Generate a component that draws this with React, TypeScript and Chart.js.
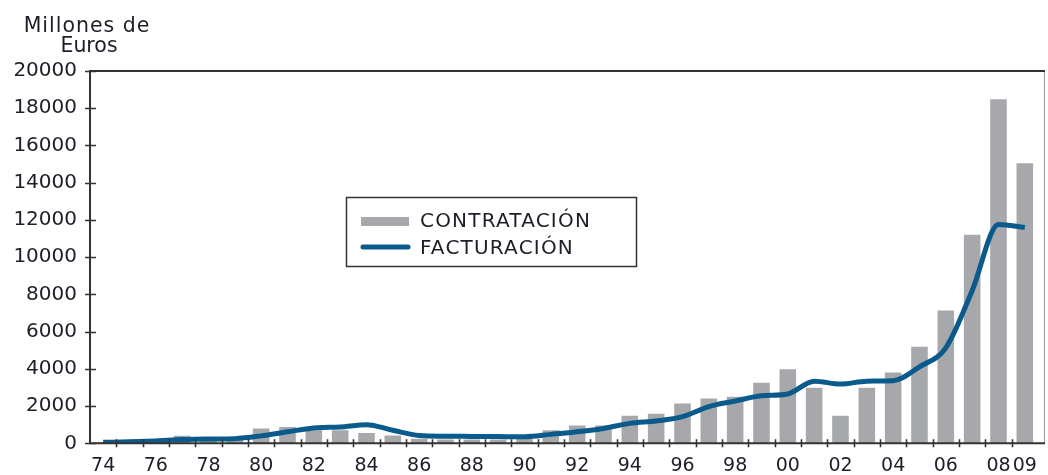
import React, { useEffect, useRef } from 'react';
import { Chart, registerables } from 'chart.js';

Chart.register(...registerables);

const years = [
  '74', '75', '76', '77', '78', '79', '80', '81', '82', '83', '84', '85',
  '86', '87', '88', '89', '90', '91', '92', '93', '94', '95', '96', '97',
  '98', '99', '00', '01', '02', '03', '04', '05', '06', '07', '08', '09',
];

const contratacion = [
  50, 100, 150, 400, 200, 200, 800, 880, 700, 700, 560, 420,
  250, 200, 200, 200, 250, 700, 950, 950, 1480, 1590, 2140, 2400,
  2500, 3250, 3980, 2980, 1480, 2980, 3800, 5180, 7140, 11200, 18480, 15050,
];

const facturacion = [
  50, 80, 130, 200, 230, 250, 400, 620, 820, 880, 1000, 700,
  420, 380, 370, 360, 350, 480, 620, 800, 1070, 1200, 1430, 1970,
  2270, 2550, 2650, 3340, 3180, 3340, 3360, 4110, 5130, 8200, 11750, 11600,
];

const shownXLabels = [
  '74', '76', '78', '80', '82', '84', '86', '88', '90', '92', '94', '96',
  '98', '00', '02', '04', '06', '08', '09',
];

const yMin = 0;
const yMax = 20000;
const yStep = 2000;

const yTitle = ['Millones de', 'Euros'];
const seriesNames = ['CONTRATACIÓN', 'FACTURACIÓN'];

const BAR_COLOR = '#a7a8ac';
const LINE_COLOR = '#0b5a8c';
const TEXT_COLOR = '#1e1e28';
const AXIS_COLOR = '#333333';
const FONT = '"DejaVu Sans", Verdana, sans-serif';

const framePlugin = {
  id: 'framePlugin',
  afterDraw(chart: any) {
    const { ctx, chartArea, scales } = chart;
    const { left, right, top, bottom } = chartArea;
    const x = scales.x;
    const y = scales.y;
    const frameRight = right + 6;
    ctx.save();
    ctx.strokeStyle = '#9a9a9a';
    ctx.lineWidth = 1;
    ctx.beginPath();
    ctx.moveTo(frameRight + 0.5, top);
    ctx.lineTo(frameRight + 0.5, bottom);
    ctx.stroke();

    ctx.strokeStyle = AXIS_COLOR;
    ctx.lineWidth = 2;
    ctx.beginPath();
    ctx.moveTo(left, top);
    ctx.lineTo(frameRight + 1, top);
    ctx.moveTo(left, bottom);
    ctx.lineTo(frameRight + 1, bottom);
    ctx.moveTo(left, top - 1);
    ctx.lineTo(left, bottom + 1);
    ctx.stroke();

    ctx.lineWidth = 1.6;
    ctx.beginPath();
    y.ticks.forEach((t: any) => {
      const py = Math.round(y.getPixelForValue(t.value)) + 0.5;
      ctx.moveTo(left - 5, py);
      ctx.lineTo(left + 6, py);
    });
    const n = chart.data.labels.length;
    for (let i = 1; i < n; i++) {
      const px = Math.round((x.getPixelForValue(i - 1) + x.getPixelForValue(i)) / 2) + 0.5;
      ctx.moveTo(px, bottom - 4);
      ctx.lineTo(px, bottom + 4);
    }
    ctx.stroke();

    ctx.fillStyle = TEXT_COLOR;
    ctx.font = `20.5px ${FONT}`;
    ctx.textAlign = 'center';
    ctx.textBaseline = 'alphabetic';
    try {
      (ctx as any).letterSpacing = '1px';
    } catch (e) {}
    ctx.fillText(yTitle[0], 87, 32);
    try {
      (ctx as any).letterSpacing = '0px';
    } catch (e) {}
    ctx.fillText(yTitle[1], 89, 52);
    ctx.restore();
  },
};

const legendPlugin = {
  id: 'boxLegend',
  afterDraw(chart: any) {
    const { ctx } = chart;
    const bx = 346.5;
    const by = 197.5;
    const bw = 290;
    const bh = 69;
    ctx.save();
    ctx.fillStyle = '#ffffff';
    ctx.fillRect(bx, by, bw, bh);
    ctx.strokeStyle = AXIS_COLOR;
    ctx.lineWidth = 1.5;
    ctx.strokeRect(bx, by, bw, bh);

    const ds = chart.data.datasets;
    ctx.fillStyle = ds[0].backgroundColor;
    ctx.fillRect(361, 217, 48, 9);
    ctx.strokeStyle = ds[1].borderColor;
    ctx.lineWidth = 5;
    ctx.lineCap = 'round';
    ctx.beginPath();
    ctx.moveTo(363, 247);
    ctx.lineTo(408, 247);
    ctx.stroke();

    ctx.fillStyle = TEXT_COLOR;
    ctx.font = `20px ${FONT}`;
    try {
      (ctx as any).letterSpacing = '1.2px';
    } catch (e) {}
    ctx.textAlign = 'left';
    ctx.textBaseline = 'middle';
    ctx.fillText(ds[0].label, 420, 222);
    ctx.fillText(ds[1].label, 420, 249);
    ctx.restore();
  },
};

export default function App() {
  const canvasRef = useRef<HTMLCanvasElement | null>(null);

  useEffect(() => {
    const canvas = canvasRef.current;
    if (!canvas) return;
    const chart = new Chart(canvas, {
      type: 'bar',
      data: {
        labels: years,
        datasets: [
          {
            type: 'bar',
            label: seriesNames[0],
            data: contratacion,
            backgroundColor: BAR_COLOR,
            borderWidth: 0,
            barPercentage: 0.63,
            categoryPercentage: 1,
            order: 2,
          },
          {
            type: 'line',
            label: seriesNames[1],
            data: facturacion,
            borderColor: LINE_COLOR,
            backgroundColor: LINE_COLOR,
            borderWidth: 5,
            pointRadius: 0,
            cubicInterpolationMode: 'monotone',
            fill: false,
            order: 1,
          } as any,
        ],
      },
      options: {
        responsive: false,
        animation: false,
        maintainAspectRatio: false,
        layout: { padding: { left: 0, right: 7, top: 71, bottom: 0 } },
        plugins: {
          legend: { display: false },
          tooltip: { enabled: false },
          title: { display: false },
        },
        scales: {
          x: {
            type: 'category',
            offset: true,
            grid: { display: false, drawTicks: false },
            border: { display: false },
            ticks: {
              autoSkip: false,
              maxRotation: 0,
              minRotation: 0,
              padding: 11,
              color: TEXT_COLOR,
              font: { family: FONT, size: 19 },
              callback: function (this: any, value: any) {
                const lab = this.getLabelForValue(value);
                return shownXLabels.includes(lab) ? lab : '';
              },
            },
            afterFit: (scale: any) => {
              scale.height = 31.7;
            },
          },
          y: {
            min: yMin,
            max: yMax,
            grid: { display: false, drawTicks: false },
            border: { display: false },
            ticks: {
              stepSize: yStep,
              padding: 13,
              color: TEXT_COLOR,
              font: { family: FONT, size: 20 },
              callback: (value: any) => String(value),
            },
            afterFit: (scale: any) => {
              scale.width = 90;
            },
          },
        },
      },
      plugins: [framePlugin, legendPlugin],
    });
    return () => chart.destroy();
  }, []);

  return (
    <div style={{ position: 'absolute', left: 0, top: 0, width: 1048, height: 475, background: '#fff' }}>
      <canvas ref={canvasRef} width={1048} height={475} style={{ display: 'block', width: 1048, height: 475 }} />
    </div>
  );
}
